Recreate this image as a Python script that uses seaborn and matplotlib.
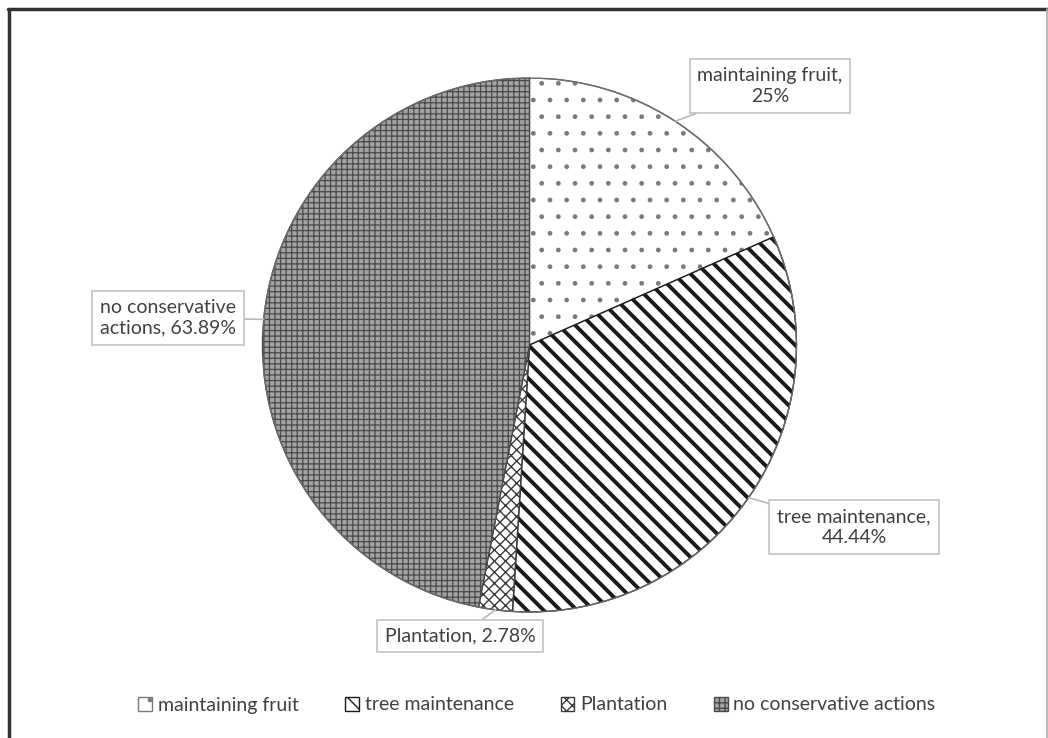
import numpy as np
import matplotlib
matplotlib.use("Agg")
import matplotlib.pyplot as plt
import seaborn as sns
from matplotlib.lines import Line2D

categories = ["maintaining fruit", "tree maintenance", "Plantation", "no conservative actions"]
values = [25, 44.44, 2.78, 63.89]
label_texts = ["maintaining fruit,\n25%", "tree maintenance,\n44.44%",
               "Plantation, 2.78%", "no conservative\nactions, 63.89%"]

sns.set_theme(style="white")
plt.rcParams["font.family"] = ["Lato", "DejaVu Sans"]
plt.rcParams["hatch.linewidth"] = 1.0

W, H = 1048, 738
fig = plt.figure(figsize=(W / 100, H / 100), dpi=100)
fig.patch.set_facecolor("white")

def fx(px):
    return px / W

def fy(py):
    return 1 - py / H

cx, cy, r = 529.5, 345, 267
ax = fig.add_axes([fx(cx - r), fy(cy + r), 2 * r / W, 2 * r / H])

faces = ["white", "white", "white", "#a3a3a3"]
hatch_cols = ["#7a7a7a", "#1a1a1a", "#3a3a3a", "#4a4a4a"]
hatches = [".", "\\\\", "xxx", "+++"]
hatch_lw = [1.0, 2.8, 1.0, 0.9]

wedges, _ = ax.pie(values, startangle=90, counterclock=False, radius=1,
                   wedgeprops=dict(linewidth=1.0))
for w, fc, hc, ht, lw in zip(wedges, faces, hatch_cols, hatches, hatch_lw):
    w.set_facecolor(fc)
    w.set_edgecolor(hc)
    w.set_hatch(ht)
    if hasattr(w, "set_hatch_linewidth"):
        w.set_hatch_linewidth(lw)
ax.set_xlim(-1, 1)
ax.set_ylim(-1, 1)
ax.axis("off")

outline = plt.Circle((0, 0), 1, fill=False, edgecolor="#6a6a6a", linewidth=1.0)
ax.add_patch(outline)

box_pos = [(770, 86), (854, 527), (460, 636), (168, 318)]
txt_col = "#404040"
for w, txt, (bx, by) in zip(wedges, label_texts, box_pos):
    mid = np.deg2rad((w.theta1 + w.theta2) / 2)
    ax.annotate(txt, xy=(np.cos(mid), np.sin(mid)), xycoords="data",
                xytext=(fx(bx), fy(by)), textcoords="figure fraction",
                ha="center", va="center", fontsize=14, color=txt_col,
                linespacing=1.25,
                bbox=dict(boxstyle="square,pad=0.4", fc="white", ec="#c4c4c4", lw=1.2),
                arrowprops=dict(arrowstyle="-", color="#b8b8b8", lw=1.2,
                                shrinkA=0, shrinkB=0))

leg = fig.legend(wedges, categories, loc="center", bbox_to_anchor=(fx(537), fy(705)),
                 ncol=4, frameon=False, fontsize=14, handlelength=0.7,
                 handleheight=0.7, handletextpad=0.3, columnspacing=2.4,
                 labelcolor=txt_col)

fig.add_artist(Line2D([fx(9), fx(9)], [fy(9), 0], color="#333333", lw=2.5))
fig.add_artist(Line2D([fx(8), fx(1047)], [fy(9), fy(9)], color="#333333", lw=2.5))
fig.add_artist(Line2D([fx(1046.5), fx(1046.5)], [fy(9), 0], color="#b0b0b0", lw=1.2))

fig.savefig("out.png", dpi=100, facecolor="white")
